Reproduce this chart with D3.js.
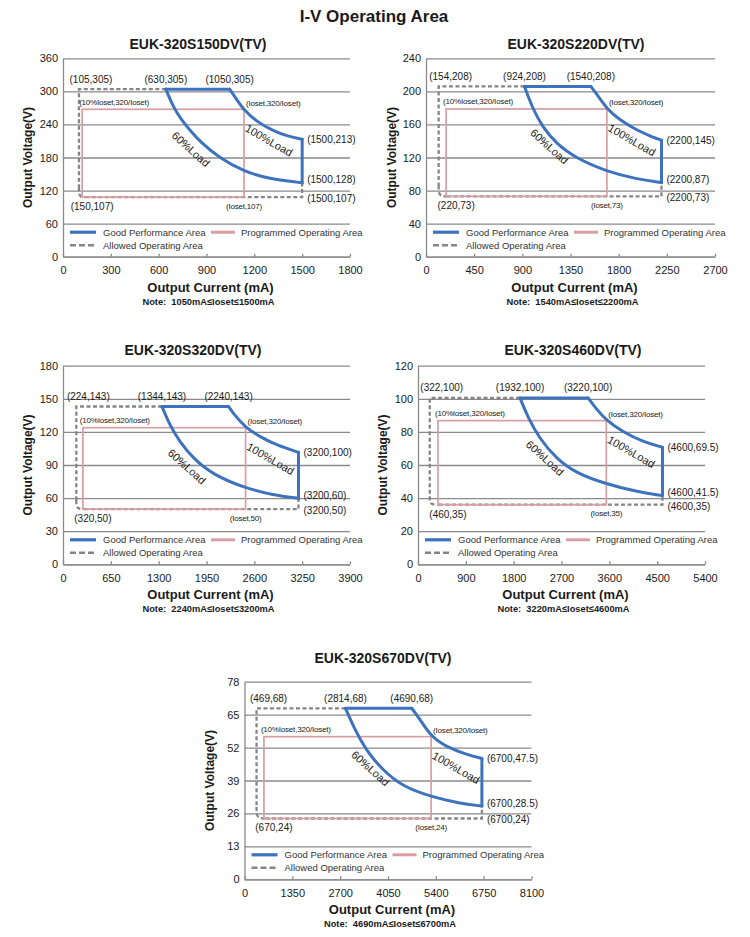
<!DOCTYPE html>
<html lang="en">
<head>
<meta charset="utf-8">
<title>I-V Operating Area</title>
<script src="https://cdn.jsdelivr.net/npm/d3@7"></script>
<style>
	body { margin: 0; background: #fff; }
	svg { display: block; font-family: "Liberation Sans", Arial, sans-serif; }
</style>
</head>
<body>
<svg id="chart" width="750" height="937"></svg>
<script>
// ---- data ----
const models = ["EUK-320S150DV(TV)", "EUK-320S220DV(TV)", "EUK-320S320DV(TV)", "EUK-320S460DV(TV)", "EUK-320S670DV(TV)"];
const notes = [
	"Note:  1050mA≤Ioset≤1500mA",
	"Note:  1540mA≤Ioset≤2200mA",
	"Note:  2240mA≤Ioset≤3200mA",
	"Note:  3220mA≤Ioset≤4600mA",
	"Note:  4690mA≤Ioset≤6700mA"
];
const xTicks = [
	[0, 300, 600, 900, 1200, 1500, 1800],
	[0, 450, 900, 1350, 1800, 2250, 2700],
	[0, 650, 1300, 1950, 2600, 3250, 3900],
	[0, 900, 1800, 2700, 3600, 4500, 5400],
	[0, 1350, 2700, 4050, 5400, 6750, 8100]
];
const yTicks = [
	[0, 60, 120, 180, 240, 300, 360],
	[0, 40, 80, 120, 160, 200, 240],
	[0, 30, 60, 90, 120, 150, 180],
	[0, 20, 40, 60, 80, 100, 120],
	[0, 13, 26, 39, 52, 65, 78]
];
// good performance area, 100% load edge [mA, V]
const load100 = [
	[[1045, 304], [1078, 290], [1130, 267.5], [1214, 245], [1318, 228.6], [1403, 219], [1500, 213]],
	[[1540, 206], [1590, 197.7], [1690, 178.7], [1809, 165.4], [1965, 153.3], [2121, 144.4], [2200, 141]],
	[[2250, 143], [2313, 136.8], [2481, 123.8], [2676, 115.7], [2902, 108], [3200, 101.5]],
	[[3200, 100.5], [3323, 95.2], [3543, 86.8], [3858, 80], [4236, 74], [4600, 70.7]],
	[[4720, 67.5], [4937, 63.5], [5267, 56.3], [5692, 52.3], [6259, 49.3], [6700, 47.7]]
];
// good performance area, 60% load edge [mA, V]
const load60 = [
	[[645, 304], [691, 272], [743, 248], [795, 230], [858, 209], [984, 178.5], [1136, 155], [1277, 142], [1500, 134]],
	[[920, 206], [995, 179.5], [1089, 157], [1214, 137], [1402, 119], [1690, 103], [1965, 94], [2200, 89.6]],
	[[1345, 143], [1451, 126], [1587, 111], [1769, 96], [2041, 81], [2481, 68.9], [2857, 62.8], [3200, 59.8]],
	[[1920, 100.5], [2064, 89], [2285, 76], [2599, 64], [2977, 55], [3543, 48.5], [4110, 43.9], [4600, 41.5]],
	[[2850, 67.5], [3096, 59.6], [3427, 51], [3899, 43.1], [4465, 36.6], [5267, 32.6], [6070, 30], [6700, 28.9]]
];
// programmed operating area: [left mA, right mA, top V, bottom V]
const programmed = [
	[120, 1135, 267.5, 108],
	[188, 1690, 178.7, 73],
	[270, 2481, 123.8, 50],
	[375, 3543, 86.8, 36],
	[548, 5267, 56.3, 24]
];
// allowed operating area: [left mA, top V, bottom V, right mA, corner start V, corner end mA]
const allowed = [
	[100, 304, 108, 1500, 126, 140],
	[118, 206, 73, 2200, 86, 197],
	[181, 143, 50, 3200, 58, 295],
	[221, 100.5, 36, 4600, 41, 396],
	[340, 67.5, 24, 6700, 28.5, 595]
];
// point labels: top-left, 60% start, 100% start, right top, right mid, right bottom, bottom-left, Ioset bottom
const pointLabels = [
	["(105,305)", "(630,305)", "(1050,305)", "(1500,213)", "(1500,128)", "(1500,107)", "(150,107)", "(Ioset,107)"],
	["(154,208)", "(924,208)", "(1540,208)", "(2200,145)", "(2200,87)", "(2200,73)", "(220,73)", "(Ioset,73)"],
	["(224,143)", "(1344,143)", "(2240,143)", "(3200,100)", "(3200,60)", "(3200,50)", "(320,50)", "(Ioset,50)"],
	["(322,100)", "(1932,100)", "(3220,100)", "(4600,69.5)", "(4600,41.5)", "(4600,35)", "(460,35)", "(Ioset,35)"],
	["(469,68)", "(2814,68)", "(4690,68)", "(6700,47.5)", "(6700,28.5)", "(6700,24)", "(670,24)", "(Ioset,24)"]
];

// ---- layout ----
const panels = [
	{left: 63, top: 58.3, w: 287, h: 198.4, titleX: 198, titleY: 44, yTitleX: 28},
	{left: 426, top: 58.3, w: 289, h: 198.4, titleX: 576, titleY: 44, yTitleX: 392},
	{left: 63, top: 365.7, w: 287, h: 198.6, titleX: 193, titleY: 350, yTitleX: 28},
	{left: 418, top: 365.7, w: 287, h: 198.6, titleX: 573, titleY: 350, yTitleX: 383},
	{left: 244.5, top: 681.7, w: 287, h: 197.6, titleX: 383, titleY: 658, yTitleX: 210}
];
const blue = '#3d72bd', pink = '#d99ea4', gray = '#858585', grid = '#8a8a8a', ink = '#1a1a1a';

let svg = d3.select('#chart');

svg.append('text')
	.attr('x', 374).attr('y', 16)
	.attr('text-anchor', 'middle').attr('dominant-baseline', 'central')
	.style('font-size', '17px').style('font-weight', 'bold').attr('fill', ink)
	.text('I-V Operating Area');

panels.forEach((p, i) => {
	let xs = xTicks[i], ys = yTicks[i];
	let x = d3.scaleLinear().domain([0, xs[xs.length - 1]]).range([0, p.w]);
	let y = d3.scaleLinear().domain([0, ys[ys.length - 1]]).range([p.h, 0]);

	// titles
	svg.append('text')
		.attr('x', p.titleX).attr('y', p.titleY)
		.attr('text-anchor', 'middle').attr('dominant-baseline', 'central')
		.style('font-size', '14px').style('font-weight', 'bold').attr('fill', ink)
		.text(models[i]);
	svg.append('text')
		.attr('transform', `translate(${p.yTitleX},${p.top + p.h / 2}) rotate(-90)`)
		.attr('text-anchor', 'middle').attr('dominant-baseline', 'central')
		.style('font-size', '12px').style('font-weight', 'bold').attr('fill', ink)
		.text('Output Voltage(V)');
	svg.append('text')
		.attr('x', p.left + p.w / 2 + 4).attr('y', p.top + p.h + 30.5)
		.attr('text-anchor', 'middle').attr('dominant-baseline', 'central')
		.style('font-size', '13px').style('font-weight', 'bold').attr('fill', ink)
		.text('Output Current (mA)');
	svg.append('text')
		.attr('x', p.left + p.w / 2 + 2).attr('y', p.top + p.h + 45)
		.attr('text-anchor', 'middle').attr('dominant-baseline', 'central')
		.style('font-size', '9.3px').style('font-weight', 'bold').attr('fill', ink)
		.attr('xml:space', 'preserve')
		.text(notes[i]);

	let g = svg.append('g').attr('transform', `translate(${p.left},${p.top})`);

	// axes + grid
	let ya = g.append('g')
		.call(d3.axisLeft(y).tickValues(ys).tickFormat(d => String(d))
			.tickSize(-p.w).tickSizeOuter(0).tickPadding(5));
	let xa = g.append('g')
		.attr('transform', `translate(0,${p.h})`)
		.call(d3.axisBottom(x).tickValues(xs).tickFormat(d => String(d))
			.tickSize(-3).tickSizeOuter(0).tickPadding(9.5));
	[ya, xa].forEach(a => {
		a.selectAll('path.domain').attr('stroke', grid).attr('stroke-width', 1.3);
		a.selectAll('line').attr('stroke', grid).attr('stroke-width', 1.3);
		a.selectAll('text').attr('fill', ink).style('font-size', '11px')
			.style('font-family', '"Liberation Sans", Arial, sans-serif');
	});

	let al = allowed[i], pr = programmed[i], l100 = load100[i], l60 = load60[i];
	let line = d3.line().x(d => x(d[0])).y(d => y(d[1]));

	// allowed operating area (dashed)
	let dashPath = line([[l60[0][0], al[1]], [al[0], al[1]], [al[0], al[4]]])
		+ line.curve(d3.curveBasis)([[al[0], al[4]], [al[0], al[2]], [al[5], al[2]]])
		+ line.curve(d3.curveLinear)([[al[5], al[2]], [al[3], al[2]], [al[3], l60[l60.length - 1][1]]]);
	g.append('path')
		.attr('d', dashPath)
		.attr('fill', 'none').attr('stroke', gray).attr('stroke-width', 2.3)
		.attr('stroke-dasharray', '4,2.5');

	// programmed operating area
	g.append('rect')
		.attr('x', x(pr[0])).attr('y', y(pr[2]))
		.attr('width', x(pr[1]) - x(pr[0])).attr('height', y(pr[3]) - y(pr[2]))
		.attr('fill', 'none').attr('stroke', pink).attr('stroke-width', 1.7);

	// good performance area
	let curve = d3.line().x(d => x(d[0])).y(d => y(d[1])).curve(d3.curveBasis);
	[[l60[0], l100[0]], [l100[l100.length - 1], l60[l60.length - 1]]].forEach(seg => {
		g.append('path').attr('d', line(seg))
			.attr('fill', 'none').attr('stroke', blue).attr('stroke-width', 3).attr('stroke-linecap', 'round');
	});
	[l100, l60].forEach(c => {
		g.append('path').attr('d', curve(c))
			.attr('fill', 'none').attr('stroke', blue).attr('stroke-width', 3).attr('stroke-linecap', 'round');
	});

	// labels
	let lab = (px, py, t, size, anchor) => g.append('text')
		.attr('x', px).attr('y', py)
		.attr('text-anchor', anchor).attr('dominant-baseline', 'central')
		.style('font-size', size + 'px').attr('fill', ink)
		.text(t);
	let pl = pointLabels[i];
	let lastV = l60[l60.length - 1][1], topV100 = l100[l100.length - 1][1];
	lab(x(al[0]) + 12, y(al[1]) - 10, pl[0], 10, 'middle');
	lab(x(l60[0][0]), y(al[1]) - 10, pl[1], 10, 'middle');
	lab(x(l100[0][0]), y(al[1]) - 10, pl[2], 10, 'middle');
	lab(x(al[3]) + 5, y(topV100), pl[3], 10, 'start');
	lab(x(al[3]) + 5, y(lastV) - 3, pl[4], 10, 'start');
	lab(x(al[3]) + 5, y(al[2]) + 1.5, pl[5], 10, 'start');
	lab(x(pr[0]) + 10, y(pr[3]) + 9.5, pl[6], 10, 'middle');
	lab(x(pr[1]), y(pr[3]) + 9, pl[7], 8, 'middle').style('letter-spacing', '-0.2px');
	lab(x(pr[0]) - 3, y(pr[2]) - 7, '(10%Ioset,320/Ioset)', 8, 'start').style('letter-spacing', '-0.2px');
	lab(x(pr[1]) + 2, y(pr[2]) - 6, '(Ioset,320/Ioset)', 8, 'start').style('letter-spacing', '-0.2px');
	g.append('text')
		.attr('transform', `translate(${x(pr[1]) + 25},${y(pr[2]) + 31}) rotate(30)`)
		.attr('text-anchor', 'middle').attr('dominant-baseline', 'central')
		.style('font-size', '11px').attr('fill', ink).text('100%Load');
	g.append('text')
		.attr('transform', `translate(${x(l60[0][0]) + 25},${y(al[1]) + 60}) rotate(42)`)
		.attr('text-anchor', 'middle').attr('dominant-baseline', 'central')
		.style('font-size', '11px').attr('fill', ink).text('60%Load');

	// legend
	let r1 = p.h - 24.5, r2 = p.h - 11.5;
	g.append('line').attr('x1', 7).attr('x2', 33).attr('y1', r1).attr('y2', r1)
		.attr('stroke', blue).attr('stroke-width', 3.2);
	g.append('line').attr('x1', 148).attr('x2', 172).attr('y1', r1).attr('y2', r1)
		.attr('stroke', pink).attr('stroke-width', 3);
	g.append('line').attr('x1', 7).attr('x2', 33).attr('y1', r2).attr('y2', r2)
		.attr('stroke', gray).attr('stroke-width', 2.6).attr('stroke-dasharray', '6,3');
	lab(40, r1, 'Good Performance Area', 9.5, 'start').attr('fill', '#333');
	lab(178, r1, 'Programmed Operating Area', 9.5, 'start').attr('fill', '#333');
	lab(40, r2, 'Allowed Operating Area', 9.5, 'start').attr('fill', '#333');
});
</script>
</body>
</html>
